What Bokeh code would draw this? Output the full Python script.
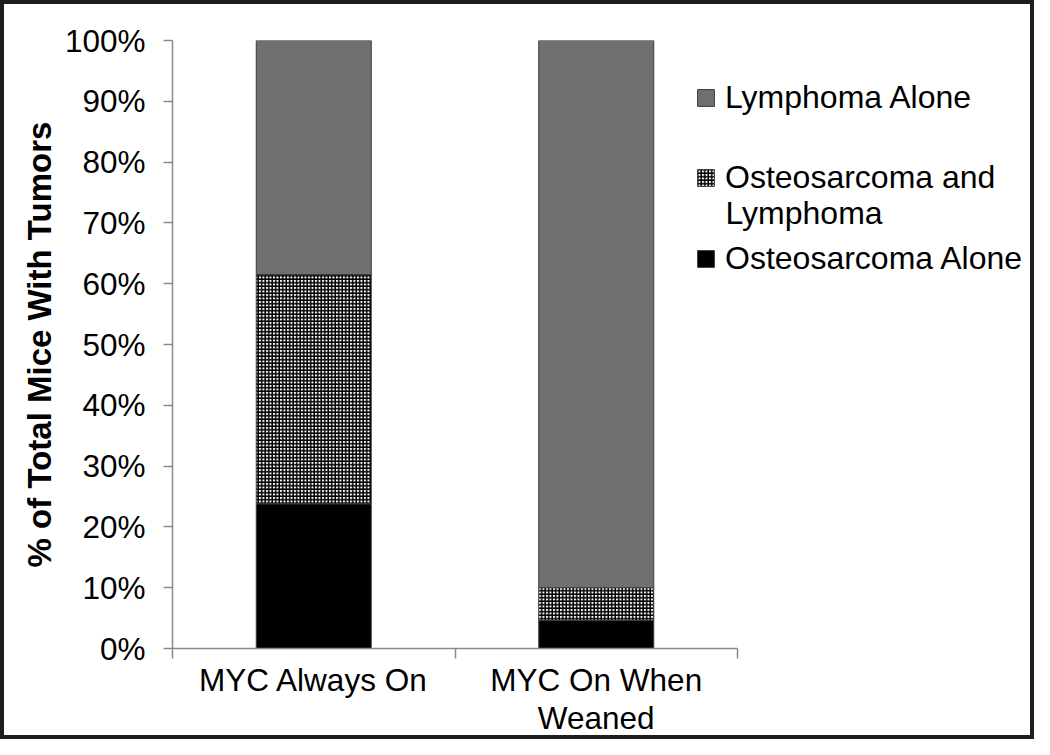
import numpy as np
from bokeh.plotting import figure
from bokeh.models import (ColumnDataSource, FixedTicker, NumeralTickFormatter,
                          Legend, LegendItem, Range1d, Label)
from bokeh.embed import file_html
from bokeh.resources import INLINE

# ---- data ----
categories = ["MYC Always On", "MYC On When\nWeaned"]
osteo_alone = [0.238, 0.046]
osteo_and_lymphoma = [0.377, 0.054]
lymphoma_alone = [0.385, 0.900]
y_ticks = [0.0, 0.1, 0.2, 0.3, 0.4, 0.5, 0.6, 0.7, 0.8, 0.9, 1.0]

FONT = "Liberation Sans"
GRAY = "#707070"
AXIS_GRAY = "#8a8a8a"

# ---- layout (pixels) ----
W, H = 1034, 739
LEFT, TOP, BOTTOM = 172, 40, 648       # frame edges
AXIS_END = 737                          # right end of the category axis
cat_px = (AXIS_END - LEFT) / len(categories)
x_end = (W - LEFT) / cat_px             # frame runs to the figure's right edge

x = np.arange(len(categories)) + 0.5
b1 = np.zeros(len(categories))
t1 = b1 + np.array(osteo_alone)
t2 = t1 + np.array(osteo_and_lymphoma)
t3 = t2 + np.array(lymphoma_alone)
src = ColumnDataSource(dict(x=x, b1=b1, t1=t1, t2=t2, t3=t3))

p = figure(width=W, height=H, output_backend="svg", toolbar_location=None,
           x_range=Range1d(0, x_end), y_range=Range1d(0, 1),
           min_border_left=LEFT, min_border_right=0, min_border_top=TOP,
           min_border_bottom=H - BOTTOM)
p.outline_line_color = None
p.xgrid.visible = False
p.ygrid.visible = False
p.border_fill_color = None
p.background_fill_color = None
p.styles = {"background-color": "white",
            "box-shadow": "inset 0 0 0 4px #1e1e1e"}

bw = 115 / cat_px
r_os = p.vbar(x="x", bottom="b1", top="t1", width=bw, source=src,
              fill_color="black", line_color="#3a3a3a", line_width=1)
r_ol = p.vbar(x="x", bottom="t1", top="t2", width=bw, source=src,
              fill_color="white", hatch_pattern="+", hatch_color="black",
              hatch_scale=3.5, hatch_weight=1.5,
              line_color="#3a3a3a", line_width=1)
r_ly = p.vbar(x="x", bottom="t2", top="t3", width=bw, source=src,
              fill_color=GRAY, line_color="#3a3a3a", line_width=1)

# y axis
ya = p.yaxis[0]
ya.ticker = FixedTicker(ticks=y_ticks)
ya.formatter = NumeralTickFormatter(format="0%")
ya.axis_label = "% of Total Mice With Tumors"
ya.axis_label_text_font = FONT
ya.axis_label_text_font_style = "bold"
ya.axis_label_text_font_size = "33px"
ya.axis_label_text_color = "black"
ya.axis_label_standoff = 4
ya.major_label_text_font = FONT
ya.major_label_text_font_size = "31.5px"
ya.major_label_text_color = "black"
ya.major_label_standoff = 18
ya.major_tick_in = 0
ya.major_tick_out = 9
ya.minor_tick_line_color = None
ya.axis_line_color = AXIS_GRAY
ya.major_tick_line_color = AXIS_GRAY
ya.axis_line_width = 1.5
ya.major_tick_line_width = 1.5

# x axis: labels at category centres, ticks at category boundaries
xa = p.xaxis[0]
xa.bounds = (0, len(categories))
xa.ticker = FixedTicker(ticks=list(x),
                        minor_ticks=list(np.arange(len(categories) + 1)))
xa.major_label_overrides = {float(v): c for v, c in zip(x, categories)}
xa.major_label_text_font = FONT
xa.major_label_text_font_size = "31.5px"
xa.major_label_text_color = "black"
xa.major_label_text_line_height = 1.08
xa.major_label_standoff = 3
xa.major_tick_in = 0
xa.major_tick_out = 0
xa.minor_tick_in = 0
xa.minor_tick_out = 10
xa.minor_tick_line_color = AXIS_GRAY
xa.minor_tick_line_width = 1.5
xa.axis_line_color = AXIS_GRAY
xa.axis_line_width = 1.5

# ---- legend (three entries placed like the reference) ----
LEG_X = 523
LEG_FONT = "32px"

def add_legend(label, renderer, y):
    lg = Legend(items=[LegendItem(label=label, renderers=[renderer])],
                location=(LEG_X, y), orientation="vertical",
                padding=0, margin=0, spacing=0,
                glyph_width=21, glyph_height=21, label_standoff=9,
                label_text_font=FONT, label_text_font_size=LEG_FONT,
                label_text_color="black", label_text_line_height=1.1,
                border_line_color=None, background_fill_alpha=0)
    p.add_layout(lg, "center")

add_legend("Lymphoma Alone", r_ly, 532)
add_legend("Osteosarcoma and", r_ol, 452)
add_legend("Osteosarcoma Alone", r_os, 371)
p.add_layout(Label(x=LEG_X + 30, y=BOTTOM - 212, x_units="screen",
                   y_units="screen", text="Lymphoma", text_font=FONT,
                   text_font_size=LEG_FONT, text_color="black",
                   text_baseline="middle", text_align="left"))

open("out.html", "w").write(file_html(p, INLINE))
